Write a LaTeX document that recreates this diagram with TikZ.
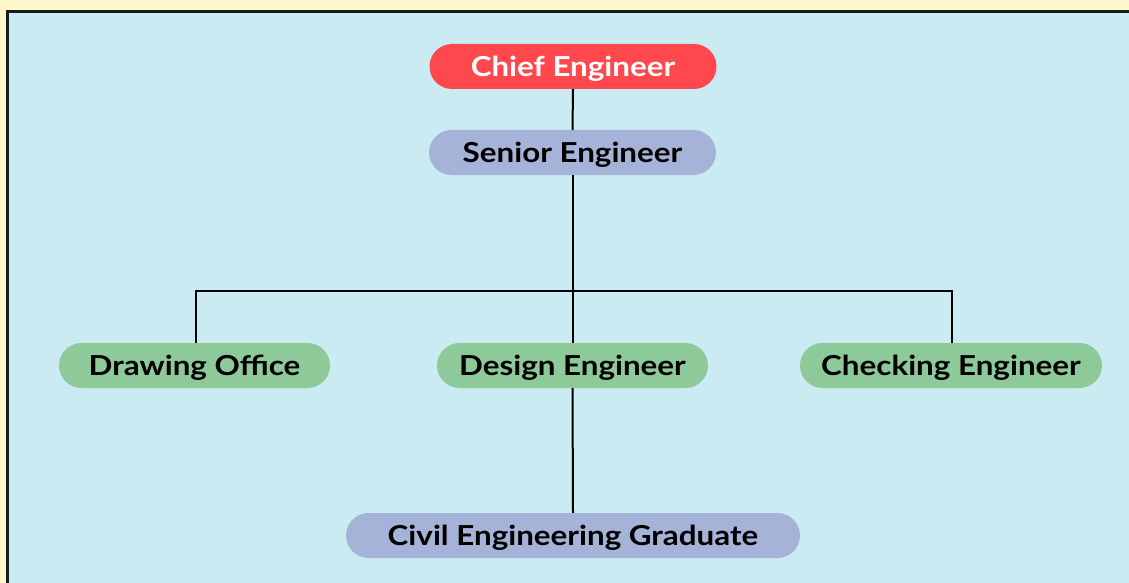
\documentclass[tikz,border=0pt]{standalone}
\usepackage{fontspec}
\setmainfont{Lato}[FakeStretch=1.14]
\definecolor{bgyellow}{HTML}{FFF8CC}
\definecolor{bgblue}{HTML}{CAEBF2}
\definecolor{chiefred}{HTML}{FF484E}
\definecolor{senblue}{HTML}{A6B3D8}
\definecolor{leafgreen}{HTML}{8DC999}
\begin{document}
\begin{tikzpicture}[x=1pt,y=-1pt,
  box/.style={rounded corners=22.5pt, minimum height=45pt, inner sep=0pt,
    text height=19.6pt, text depth=0pt,
    font=\fontsize{27.5}{32}\selectfont\bfseries, text=black},
  conn/.style={draw=black, line width=2pt}]
\useasboundingbox (0,0) rectangle (1129,583);
\fill[bgyellow] (0,0) rectangle (1129,583);
\filldraw[fill=bgblue, draw=black!90, line width=3pt] (7.5,11.5) rectangle (1140,600);
\node[box, fill=chiefred, text=white, minimum width=287pt] (chief) at (573,66.5) {Chief Engineer};
\node[box, fill=senblue, minimum width=287pt] (senior) at (572.5,152.5) {Senior Engineer};
\node[box, fill=leafgreen, minimum width=271pt] (draw) at (194.5,365.5) {Drawing Office};
\node[box, fill=leafgreen, minimum width=271pt] (design) at (572.5,365.5) {Design Engineer};
\node[box, fill=leafgreen, minimum width=302pt] (check) at (951,365.5) {Checking Engineer};
\node[box, fill=senblue, minimum width=454pt] (civil) at (573,535.5) {Civil Engineering Graduate};
\coordinate (bar) at (573,291);
\draw[conn] (chief.south) -- (senior.north);
\draw[conn] (senior.south) -- (design.north);
\draw[conn] (design.south) -- (civil.north);
\draw[conn] (draw.north -| 196,0) |- (bar) -| (check.north -| 952,0);
\end{tikzpicture}
\end{document}
